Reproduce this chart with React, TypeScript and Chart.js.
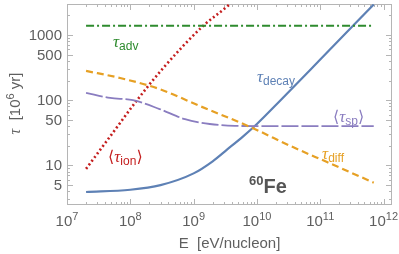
import React, { useEffect, useRef } from "react";
import { Chart, registerables } from "chart.js";

Chart.register(...registerables);

// ---- data ----
const advE = [2e7, 7e11];
const advTau = [1390, 1390];

const diffE = [2e7, 6.9e7, 2.9e8, 1.26e9, 7.8e9, 3.7e10, 1.28e11, 7e11];
const diffTau = [281, 219, 148, 81, 38.8, 19, 11.2, 5.4];

const spE = [2e7, 4.8e7, 1.1e8, 2.9e8, 7.3e8, 1.8e9, 4.5e9, 1e10, 7e11];
const spTau = [129, 108, 100, 73, 51, 43, 40.3, 40, 40];

const ionE = [2e7, 5.1e7, 1.28e8, 3.2e8, 1.41e9, 3.6e9, 4.5e9];
const ionTau = [8.8, 30, 100, 300, 1380, 2900, 3600];

const decayE = [2e7, 1e8, 3e8, 1e9, 2e9, 3.4e9, 6e9, 1e10, 2.3e10, 1e11, 7e11];
const decayTau = [3.88, 4.2, 4.95, 7.5, 11.5, 17.5, 27.5, 43, 97, 420, 2950];

const xTickValues = [1e7, 1e8, 1e9, 1e10, 1e11, 1e12];
const xTickExponents = ["7", "8", "9", "10", "11", "12"];
const yTickValues = [5, 10, 50, 100, 500, 1000];
const yTickLabels = ["5", "10", "50", "100", "500", "1000"];

const X_MIN = 1e7;
const X_MAX = 1.36e12;
const Y_MIN = 2.45;
const Y_MAX = 3000;

// ---- styles ----
const GREEN = "#2E8B2E";
const ORANGE = "#E6A024";
const PURPLE = "#8A7DC0";
const RED = "#C41E1E";
const BLUE = "#5E81B5";
const FRAME = "#B5B5B5";
const TEXT = "#5F5F5F";

const SANS = '"Liberation Sans", Arial, sans-serif';
const TAU_FONT = 'italic 17px "Liberation Serif", serif';
const SUB_FONT = `12px ${SANS}`;
const BR_FONT = '16px "DejaVu Sans", sans-serif';

type Part = { t: string; font: string; dy?: number };

const curveLabels: { E: number; tau: number; color: string; parts: Part[] }[] = [
  { E: 5.33e7, tau: 656, color: GREEN, parts: [{ t: "τ", font: TAU_FONT }, { t: "adv", font: SUB_FONT, dy: 3 }] },
  {
    E: 4.45e7, tau: 11.2, color: RED,
    parts: [{ t: "⟨", font: BR_FONT }, { t: "τ", font: TAU_FONT }, { t: "ion", font: SUB_FONT, dy: 3 }, { t: "⟩", font: BR_FONT }],
  },
  { E: 1.0e10, tau: 190, color: BLUE, parts: [{ t: "τ", font: TAU_FONT }, { t: "decay", font: SUB_FONT, dy: 3 }] },
  {
    E: 1.59e11, tau: 46, color: PURPLE,
    parts: [{ t: "⟨", font: BR_FONT }, { t: "τ", font: TAU_FONT }, { t: "sp", font: SUB_FONT, dy: 3 }, { t: "⟩", font: BR_FONT }],
  },
  { E: 1.07e11, tau: 12.5, color: ORANGE, parts: [{ t: "τ", font: TAU_FONT }, { t: "diff", font: SUB_FONT, dy: 3 }] },
  {
    E: 7.5e9, tau: 3.75, color: "#555555",
    parts: [{ t: "60", font: `bold 13px ${SANS}`, dy: -8 }, { t: "Fe", font: `bold 20px ${SANS}` }],
  },
];

function drawParts(ctx: CanvasRenderingContext2D, x: number, y: number, parts: Part[]) {
  let cx = x;
  for (const p of parts) {
    ctx.font = p.font;
    ctx.fillText(p.t, cx, y + (p.dy || 0));
    cx += ctx.measureText(p.t).width;
  }
}

function partsWidth(ctx: CanvasRenderingContext2D, parts: Part[]) {
  let w = 0;
  for (const p of parts) {
    ctx.font = p.font;
    w += ctx.measureText(p.t).width;
  }
  return w;
}

const framePlugin = {
  id: "mmaFrame",
  beforeDatasetsDraw(chart: any) {
    const { ctx, chartArea: a, scales } = chart;
    const xs = scales.x;
    const ys = scales.y;
    ctx.save();
    ctx.strokeStyle = FRAME;
    ctx.lineWidth = 1;
    ctx.strokeRect(a.left + 0.5, a.top + 0.5, a.right - a.left - 1, a.bottom - a.top - 1);

    const vTick = (v: number, len: number) => {
      const px = Math.round(xs.getPixelForValue(v)) + 0.5;
      if (px < a.left + 1 || px > a.right - 1) return;
      ctx.beginPath();
      ctx.moveTo(px, a.bottom);
      ctx.lineTo(px, a.bottom - len);
      ctx.moveTo(px, a.top);
      ctx.lineTo(px, a.top + len);
      ctx.stroke();
    };
    const hTick = (v: number, len: number) => {
      const py = Math.round(ys.getPixelForValue(v)) + 0.5;
      if (py < a.top + 1 || py > a.bottom - 1) return;
      ctx.beginPath();
      ctx.moveTo(a.left, py);
      ctx.lineTo(a.left + len, py);
      ctx.moveTo(a.right, py);
      ctx.lineTo(a.right - len, py);
      ctx.stroke();
    };
    for (let n = 7; n <= 12; n++) {
      vTick(Math.pow(10, n), 6);
      for (let k = 2; k <= 9; k++) {
        const v = k * Math.pow(10, n);
        if (v <= X_MAX) vTick(v, 3);
      }
    }
    for (let n = 0; n <= 3; n++) {
      for (let k = 1; k <= 9; k++) {
        const v = k * Math.pow(10, n);
        if (v < Y_MIN || v > Y_MAX) continue;
        hTick(v, yTickValues.includes(v) ? 6 : 3);
      }
    }

    // tick labels
    ctx.fillStyle = TEXT;
    ctx.textBaseline = "alphabetic";
    ctx.textAlign = "left";
    const baseFont = `15px ${SANS}`;
    const supFont = `11px ${SANS}`;
    xTickValues.forEach((v, i) => {
      const px = xs.getPixelForValue(v);
      const parts: Part[] = [{ t: "10", font: baseFont }, { t: xTickExponents[i], font: supFont, dy: -6 }];
      const w = partsWidth(ctx, parts);
      drawParts(ctx, px - w / 2, a.bottom + 21, parts);
    });
    ctx.textAlign = "right";
    ctx.textBaseline = "middle";
    ctx.font = baseFont;
    yTickValues.forEach((v, i) => {
      const py = ys.getPixelForValue(v);
      ctx.fillText(yTickLabels[i], a.left - 5, py + 1);
    });

    // axis titles
    ctx.textAlign = "left";
    ctx.textBaseline = "alphabetic";
    const xt: Part[] = [{ t: "E  [eV/nucleon]", font: baseFont }];
    const xw = partsWidth(ctx, xt);
    drawParts(ctx, (a.left + a.right) / 2 - xw / 2, a.bottom + 43, xt);

    const yt: Part[] = [
      { t: "τ", font: 'italic 16px "Liberation Serif", serif' },
      { t: "  [10", font: baseFont },
      { t: "6", font: supFont, dy: -6 },
      { t: " yr]", font: baseFont },
    ];
    const yw = partsWidth(ctx, yt);
    ctx.save();
    ctx.translate(20, (a.top + a.bottom) / 2 - 1);
    ctx.rotate(-Math.PI / 2);
    drawParts(ctx, -yw / 2, 0, yt);
    ctx.restore();

    ctx.restore();
  },
  afterDatasetsDraw(chart: any) {
    const { ctx, scales } = chart;
    ctx.save();
    ctx.textAlign = "left";
    ctx.textBaseline = "alphabetic";
    for (const l of curveLabels) {
      ctx.fillStyle = l.color;
      const x = scales.x.getPixelForValue(l.E);
      const y = scales.y.getPixelForValue(l.tau);
      drawParts(ctx, x, y, l.parts);
    }
    ctx.restore();
  },
};

const mk = (E: number[], T: number[]) => E.map((e, i) => ({ x: e, y: T[i] }));

export default function App() {
  const ref = useRef<HTMLCanvasElement | null>(null);
  useEffect(() => {
    if (!ref.current) return;
    const common = { pointRadius: 0, fill: false, cubicInterpolationMode: "monotone" as const };
    const chart = new Chart(ref.current, {
      type: "line",
      data: {
        datasets: [
          { ...common, label: "adv", data: mk(advE, advTau), borderColor: GREEN, borderWidth: 2, borderDash: [8, 3, 2, 3] },
          { ...common, label: "diff", data: mk(diffE, diffTau), borderColor: ORANGE, borderWidth: 2.2, borderDash: [7, 4] },
          { ...common, label: "sp", data: mk(spE, spTau), borderColor: PURPLE, borderWidth: 1.8, borderDash: [17, 3] },
          { ...common, label: "ion", data: mk(ionE, ionTau), borderColor: RED, borderWidth: 2.6, borderDash: [2, 2.6] },
          { ...common, label: "decay", data: mk(decayE, decayTau), borderColor: BLUE, borderWidth: 2.2 },
        ],
      },
      options: {
        responsive: false,
        animation: false,
        devicePixelRatio: 1,
        layout: { padding: { left: 67, right: 7, top: 4, bottom: 49 } },
        scales: {
          x: { type: "logarithmic", min: X_MIN, max: X_MAX, display: false },
          y: { type: "logarithmic", min: Y_MIN, max: Y_MAX, display: false },
        },
        plugins: { legend: { display: false }, tooltip: { enabled: false } },
      },
      plugins: [framePlugin],
    } as any);
    return () => chart.destroy();
  }, []);
  return (
    <div style={{ position: "absolute", left: 0, top: 0, width: 399, height: 254, background: "#fff" }}>
      <canvas ref={ref} width={399} height={254} style={{ display: "block" }} />
    </div>
  );
}
